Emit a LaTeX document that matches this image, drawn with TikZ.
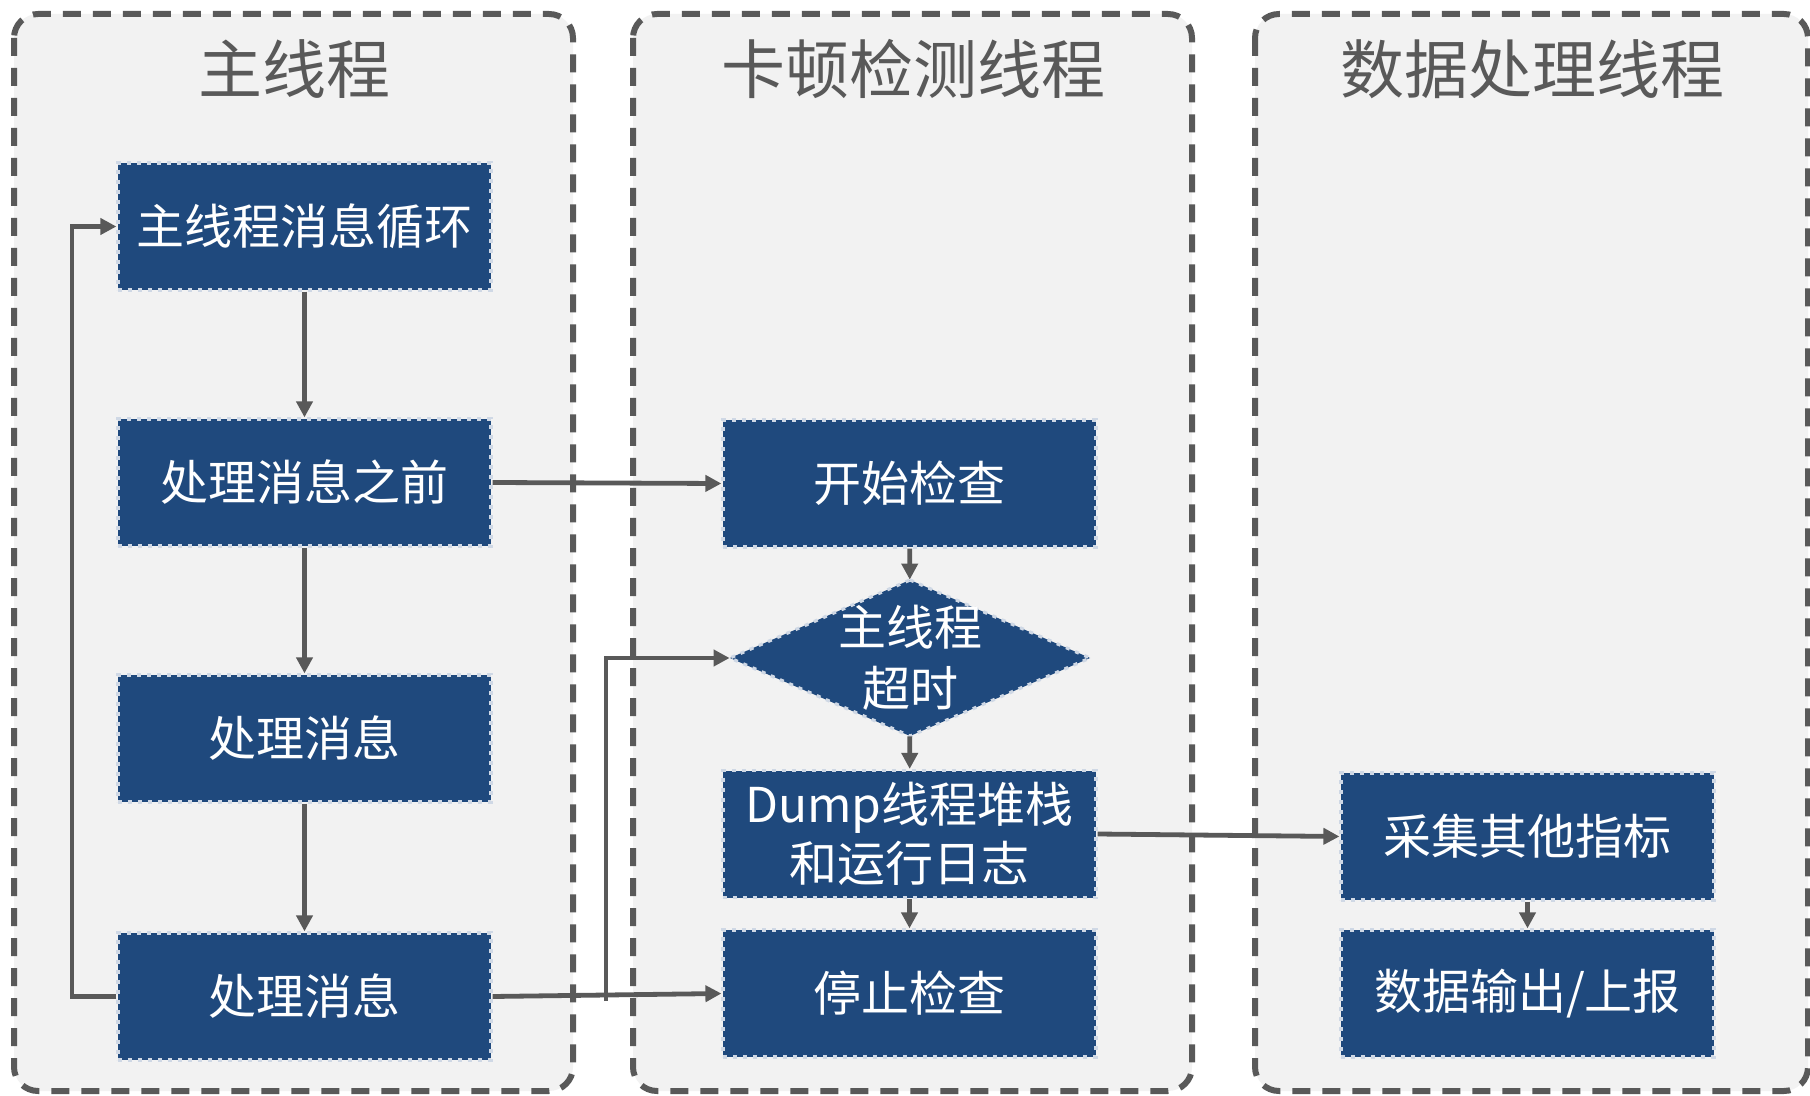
\documentclass[tikz,border=0pt]{standalone}
\usepackage{fontspec}
\setmainfont{Noto Sans CJK SC}
\usetikzlibrary{shapes.geometric,arrows.meta}
\definecolor{panelfill}{HTML}{F2F2F2}
\definecolor{panelline}{HTML}{595959}
\definecolor{boxfill}{HTML}{1F497D}
\definecolor{boxline}{HTML}{CFD8E5}
\begin{document}
\begin{tikzpicture}[x=0.5pt,y=-0.5pt,
  panel/.style={fill=panelfill,draw=panelline,line width=3pt,dash pattern=on 9pt off 6pt,rounded corners=12pt},
  title/.style={text=panelline,font=\fontsize{32pt}{38pt}\selectfont,anchor=center,inner sep=0pt},
  boxedge/.style={draw=boxline,line width=1.6pt,dash pattern=on 2pt off 3pt},
  stepbox/.style={rectangle,fill=boxfill,boxedge,minimum width=186.5pt,minimum height=63.5pt,inner sep=0pt,text=white,font=\fontsize{24pt}{29.5pt}\selectfont,align=center},
  decision/.style={rectangle,minimum width=180pt,minimum height=78pt,inner sep=0pt,text=white,font=\fontsize{24pt}{30.5pt}\selectfont,align=center},
  arr/.style={draw=panelline,line width=2.4pt,-{Triangle[length=8pt,width=8pt]}}]
\useasboundingbox (0,0) rectangle (1810,1096);
\fill[white] (0,0) rectangle (1810,1096);
% panels
\draw[panel] (14,14) rectangle (573,1091);
\draw[panel] (633,14) rectangle (1192,1091);
\draw[panel] (1255,14) rectangle (1808,1091);
\node[title] (T1) at (294,69) {主线程};
\node[title] (T2) at (913,69) {卡顿检测线程};
\node[title] (T3) at (1532,69) {数据处理线程};
% main thread
\node[stepbox] (B1) at (304.5,226.5) {主线程消息循环};
\node[stepbox] (B2) at (304.5,482.5) {处理消息之前};
\node[stepbox] (B3) at (304.5,738.5) {处理消息};
\node[stepbox] (B4) at (304.5,996.5) {处理消息};
% check thread
\node[stepbox] (C1) at (909.5,483.5) {开始检查};
\path[fill=boxfill,boxedge] (910,580) -- (1090,658) -- (910,736) -- (730,658) -- cycle;
\node[decision] (D) at (910,658) {主线程\\超时};
\node[stepbox] (C3) at (909.5,834) {Dump线程堆栈\\和运行日志};
\node[stepbox] (C4) at (909.5,993.5) {停止检查};
% data thread
\node[stepbox] (E1) at (1527.5,836.5) {采集其他指标};
\node[stepbox] (E2) at (1527.5,993.5) {数据输出/上报};
% connectors
\draw[arr] (B1) -- (B2);
\draw[arr] (B2) -- (B3);
\draw[arr] (B3) -- (B4);
\coordinate (lp) at (72,0);
\draw[arr] (B4.west) -- (B4.west -| lp) -- (B1.west -| lp) -- (B1.west);
\draw[arr] (B2.east) -- (C1.west);
\draw[arr] (B4.east) -- (C4.west);
\coordinate (br) at (606,1001);
\draw[arr] (br) |- (D.west);
\draw[arr] (C1) -- (D);
\draw[arr] (D) -- (C3);
\draw[arr] (C3) -- (C4);
\draw[arr] (C3.east) -- (E1.west);
\draw[arr] (E1) -- (E2);
\end{tikzpicture}
\end{document}
